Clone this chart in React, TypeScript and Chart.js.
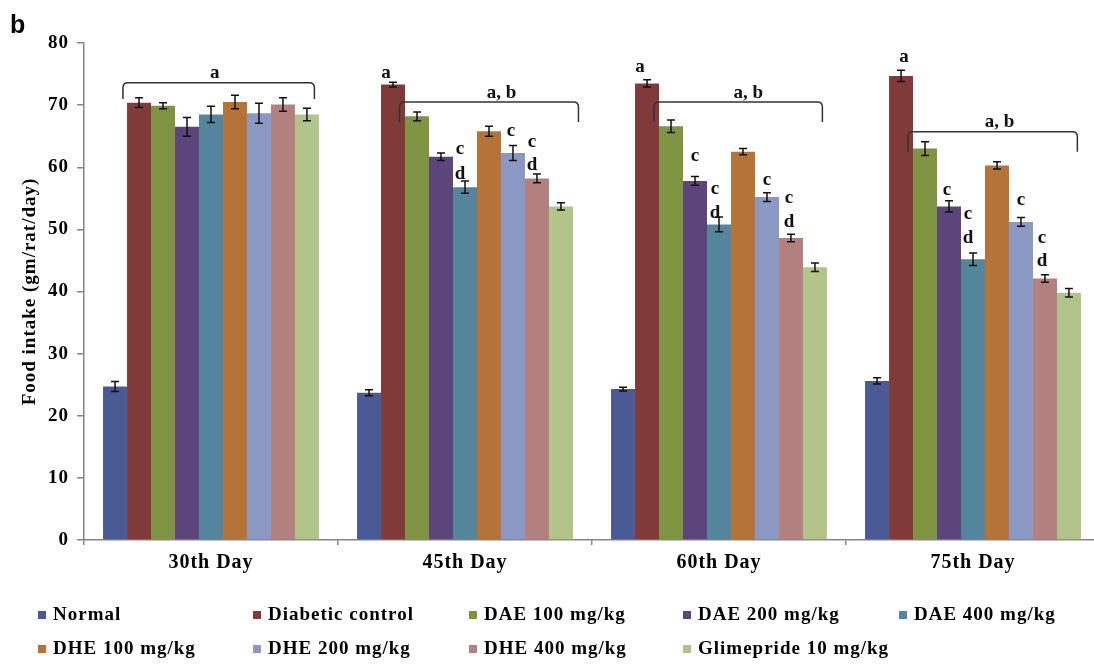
import React, { useEffect, useRef } from "react";
import { Chart, registerables } from "chart.js";

Chart.register(...registerables);

// ---------- data ----------
const categories = ["30th Day", "45th Day", "60th Day", "75th Day"];

const seriesNames = [
  "Normal",
  "Diabetic control",
  "DAE 100 mg/kg",
  "DAE 200 mg/kg",
  "DAE 400 mg/kg",
  "DHE 100 mg/kg",
  "DHE 200 mg/kg",
  "DHE 400 mg/kg",
  "Glimepride 10 mg/kg",
];

const seriesColors = [
  "#4A5A94",
  "#813A3A",
  "#7E9442",
  "#5B457B",
  "#55859D",
  "#B57338",
  "#8B98C4",
  "#B2807E",
  "#B1C489",
];

const normal = [24.7, 23.7, 24.3, 25.6];
const diabeticControl = [70.4, 73.3, 73.5, 74.7];
const dae100 = [69.9, 68.2, 66.6, 63.0];
const dae200 = [66.5, 61.7, 57.8, 53.7];
const dae400 = [68.5, 56.8, 50.8, 45.2];
const dhe100 = [70.5, 65.8, 62.5, 60.3];
const dhe200 = [68.7, 62.3, 55.2, 51.2];
const dhe400 = [70.1, 58.2, 48.6, 42.1];
const glimepride = [68.5, 53.7, 43.9, 39.8];

const errNormal = [0.8, 0.5, 0.3, 0.5];
const errDiabetic = [0.8, 0.4, 0.6, 0.9];
const errDae100 = [0.5, 0.7, 1.0, 1.1];
const errDae200 = [1.5, 0.6, 0.7, 0.9];
const errDae400 = [1.3, 1.0, 1.2, 1.0];
const errDhe100 = [1.1, 0.8, 0.5, 0.6];
const errDhe200 = [1.6, 1.2, 0.7, 0.7];
const errDhe400 = [1.1, 0.7, 0.6, 0.6];
const errGlimepride = [1.0, 0.6, 0.7, 0.7];

const seriesValues = [normal, diabeticControl, dae100, dae200, dae400, dhe100, dhe200, dhe400, glimepride];
const seriesErrors = [errNormal, errDiabetic, errDae100, errDae200, errDae400, errDhe100, errDhe200, errDhe400, errGlimepride];

const yTicks = [0, 10, 20, 30, 40, 50, 60, 70, 80];

// brackets: one per category
const bracketLabels = ["a", "a, b", "a, b", "a, b"];
const bracketTop = [73.6, 70.5, 70.5, 65.7];
const bracketBottom = [71.0, 67.3, 67.3, 62.5];
const bracketLabelValue = [75.2, 72.0, 72.0, 67.3];
// [category, series, text, value, dx]
const sigLetters: [number, number, string, number, number][] = [
  [1, 1, "a", 75.2, -7],
  [2, 1, "a", 76.1, -7],
  [3, 1, "a", 77.7, 3],
  [1, 4, "c", 62.9, -5],
  [1, 4, "d", 58.9, -5],
  [1, 6, "c", 65.8, -2],
  [1, 7, "c", 64.1, -5],
  [1, 7, "d", 60.4, -5],
  [2, 3, "c", 61.8, 0],
  [2, 4, "c", 56.5, -4],
  [2, 4, "d", 52.7, -4],
  [2, 6, "c", 58.0, 0],
  [2, 7, "c", 55.1, -2],
  [2, 7, "d", 51.2, -2],
  [3, 3, "c", 56.3, -2],
  [3, 4, "c", 52.5, -5],
  [3, 4, "d", 48.6, -5],
  [3, 6, "c", 54.7, 0],
  [3, 7, "c", 48.6, -3],
  [3, 7, "d", 44.9, -3],
];

// ---------- styling / layout ----------
const bracketStart = [
  { ds: 1, frac: -0.67 },
  { ds: 1, frac: 0.27 },
  { ds: 1, frac: 0.29 },
  { ds: 1, frac: 0.29 },
];
const bracketEnd = [
  { ds: 8, frac: 0.31 },
  { ds: 8, frac: 0.73 },
  { ds: 8, frac: 0.31 },
  { ds: 8, frac: 0.35 },
];
const bracketLabelFrac = [0.48, 0.57, 0.56, 0.54];

const legendCols = [38, 253, 469, 683, 899];
const legendRows = [615, 649];

const SERIF = "'Liberation Serif', 'Times New Roman', serif";
const AXIS_COLOR = "#868686";
const SPACING = "1px";

const letterSpacingPlugin = {
  id: "letterSpacing",
  beforeLayout(chart: any) {
    chart.ctx.letterSpacing = SPACING;
  },
  beforeDraw(chart: any) {
    chart.ctx.letterSpacing = SPACING;
  },
};

const errorBarPlugin = {
  id: "errorBars",
  afterDatasetsDraw(chart: any) {
    const ctx = chart.ctx;
    const yScale = chart.scales.y;
    ctx.save();
    ctx.strokeStyle = "#111";
    ctx.lineWidth = 1.5;
    chart.data.datasets.forEach((ds: any, i: number) => {
      const meta = chart.getDatasetMeta(i);
      meta.data.forEach((bar: any, j: number) => {
        const v = ds.data[j];
        const e = seriesErrors[i][j];
        const yt = yScale.getPixelForValue(v + e);
        const yb = yScale.getPixelForValue(v - e);
        const x = bar.x;
        ctx.beginPath();
        ctx.moveTo(x, yt);
        ctx.lineTo(x, yb);
        ctx.moveTo(x - 4, yt);
        ctx.lineTo(x + 4, yt);
        ctx.moveTo(x - 4, yb);
        ctx.lineTo(x + 4, yb);
        ctx.stroke();
      });
    });
    ctx.restore();
  },
};

const annotationPlugin = {
  id: "annotations",
  afterDraw(chart: any) {
    const ctx = chart.ctx;
    const yScale = chart.scales.y;
    const barX = (ds: number, cat: number, frac: number) => {
      const bar = chart.getDatasetMeta(ds).data[cat];
      return bar.x + frac * bar.width;
    };
    ctx.save();
    ctx.letterSpacing = "0px";
    // brackets
    ctx.strokeStyle = "#333";
    ctx.lineWidth = 1.5;
    for (let c = 0; c < categories.length; c++) {
      const x1 = barX(bracketStart[c].ds, c, bracketStart[c].frac);
      const x2 = barX(bracketEnd[c].ds, c, bracketEnd[c].frac);
      const yt = yScale.getPixelForValue(bracketTop[c]);
      const yb = yScale.getPixelForValue(bracketBottom[c]);
      const r = 5;
      ctx.beginPath();
      ctx.moveTo(x1, yb);
      ctx.lineTo(x1, yt + r);
      ctx.quadraticCurveTo(x1, yt, x1 + r, yt);
      ctx.lineTo(x2 - r, yt);
      ctx.quadraticCurveTo(x2, yt, x2, yt + r);
      ctx.lineTo(x2, yb);
      ctx.stroke();
      ctx.fillStyle = "#111";
      ctx.font = `bold 19px ${SERIF}`;
      ctx.textAlign = "center";
      ctx.textBaseline = "middle";
      ctx.fillText(bracketLabels[c], x1 + (x2 - x1) * bracketLabelFrac[c], yScale.getPixelForValue(bracketLabelValue[c]));
    }
    // significance letters
    ctx.fillStyle = "#111";
    ctx.font = `bold 19px ${SERIF}`;
    ctx.textAlign = "center";
    ctx.textBaseline = "middle";
    sigLetters.forEach(([cat, ds, text, val, dx]) => {
      ctx.fillText(text, barX(ds, cat, 0) + dx, yScale.getPixelForValue(val));
    });
    // panel letter
    ctx.font = "bold 25px 'Liberation Sans', Arial, sans-serif";
    ctx.textAlign = "left";
    ctx.textBaseline = "alphabetic";
    ctx.fillStyle = "#000";
    ctx.fillText("b", 10, 33);
    // legend
    ctx.letterSpacing = SPACING;
    ctx.font = `bold 19px ${SERIF}`;
    ctx.textBaseline = "middle";
    seriesNames.forEach((name, i) => {
      const col = i < 5 ? i : i - 5;
      const row = i < 5 ? 0 : 1;
      const x = legendCols[col];
      const y = legendRows[row];
      ctx.fillStyle = seriesColors[i];
      ctx.fillRect(x, y - 4, 8, 8);
      ctx.fillStyle = "#000";
      ctx.fillText(name, x + 15, y);
    });
    ctx.restore();
  },
};

export default function App() {
  const canvasRef = useRef<HTMLCanvasElement | null>(null);

  useEffect(() => {
    document.body.style.margin = "0";
    document.body.style.overflow = "hidden";
    const canvas = canvasRef.current;
    if (!canvas) return;
    const chart = new Chart(canvas, {
      type: "bar",
      data: {
        labels: categories,
        datasets: seriesNames.map((name, i) => ({
          label: name,
          data: seriesValues[i],
          backgroundColor: seriesColors[i],
          borderWidth: 0,
          categoryPercentage: 0.85,
          barPercentage: 1.0,
        })),
      },
      options: {
        responsive: false,
        animation: false,
        devicePixelRatio: 1,
        layout: { padding: { top: 43, right: 4, bottom: 0, left: 0 } },
        plugins: {
          legend: { display: false },
          tooltip: { enabled: false },
          title: { display: false },
        },
        scales: {
          x: {
            afterFit: (s: any) => {
              s.height = 124;
            },
            grid: {
              display: true,
              drawOnChartArea: false,
              drawTicks: true,
              tickLength: 5,
              offset: true,
              color: AXIS_COLOR,
              lineWidth: 1.5,
            },
            border: { color: AXIS_COLOR, width: 1.5 },
            ticks: {
              color: "#000",
              font: { family: SERIF, size: 20, weight: "bold" },
              padding: 6,
              maxRotation: 0,
            },
          },
          y: {
            min: 0,
            max: 80,
            afterFit: (s: any) => {
              s.width = 84;
            },
            afterBuildTicks: (s: any) => {
              s.ticks = yTicks.map((v) => ({ value: v }));
            },
            grid: {
              display: true,
              drawOnChartArea: false,
              drawTicks: true,
              tickLength: 7,
              color: AXIS_COLOR,
              lineWidth: 1.5,
            },
            border: { color: AXIS_COLOR, width: 1.5 },
            ticks: {
              color: "#000",
              font: { family: SERIF, size: 19, weight: "bold" },
              padding: 8,
            },
            title: {
              display: true,
              text: "Food intake (gm/rat/day)",
              color: "#000",
              font: { family: SERIF, size: 19, weight: "bold" },
              padding: { top: 19, bottom: 0 },
            },
          },
        },
      },
      plugins: [letterSpacingPlugin, errorBarPlugin, annotationPlugin],
    } as any);
    return () => chart.destroy();
  }, []);

  return (
    <div
      style={{
        position: "fixed",
        left: 0,
        top: 0,
        width: 1094,
        height: 664,
        overflow: "hidden",
        background: "#fff",
      }}
    >
      <canvas ref={canvasRef} width={1104} height={664} style={{ width: 1104, height: 664, display: "block" }} />
    </div>
  );
}
